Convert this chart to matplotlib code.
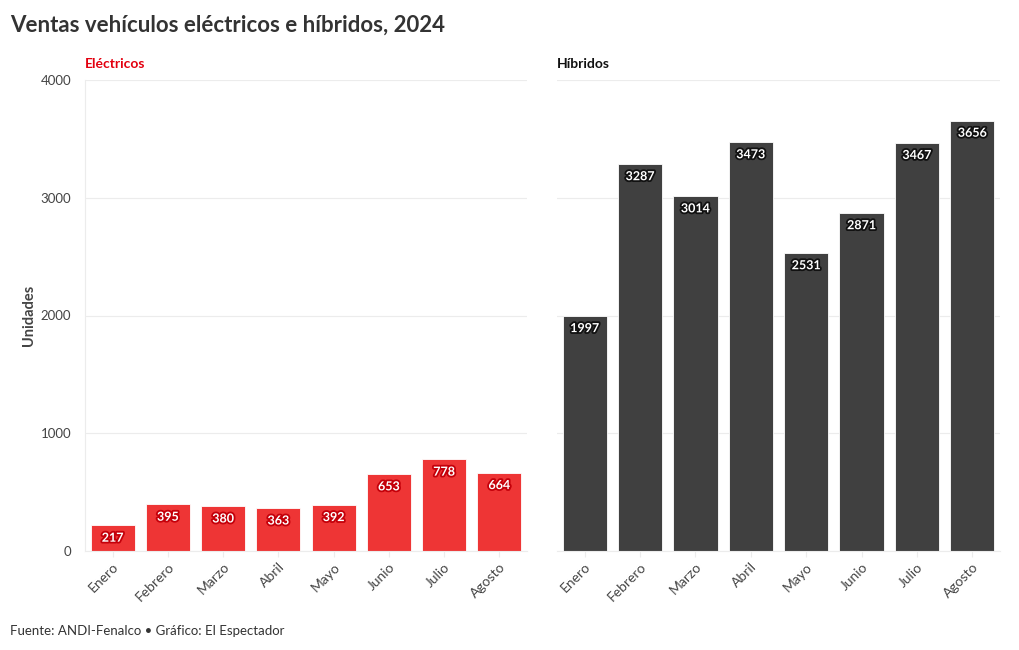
import matplotlib.pyplot as plt
import matplotlib.patheffects as pe
import numpy as np

plt.rcParams["font.family"] = ["Lato", "DejaVu Sans"]

MESES = ["Enero", "Febrero", "Marzo", "Abril", "Mayo", "Junio", "Julio", "Agosto"]
ELECTRICOS = [217, 395, 380, 363, 392, 653, 778, 664]
HIBRIDOS = [1997, 3287, 3014, 3473, 2531, 2871, 3467, 3656]

RED = "#ee3535"
RED_DARK = "#c4000a"
GREY = "#404040"
INK = "#333333"
GRID = "#ececec"

fig = plt.figure(figsize=(10.2, 6.5), dpi=100)
ax1 = fig.add_axes([85 / 1020, 99 / 650, 442 / 1020, 471 / 650])
ax2 = fig.add_axes([557 / 1020, 99 / 650, 443 / 1020, 471 / 650])


def panel(ax, vals, color, halo, title, title_color, show_y):
    x = np.arange(len(MESES))
    ax.bar(x, vals, width=0.8, color=color, edgecolor="#ffffff", linewidth=0.6, zorder=2)
    for xi, v in zip(x, vals):
        ax.annotate(f"{v}", (xi, v), xytext=(0, -4.5), textcoords="offset points",
                    ha="center", va="top", fontsize=9, fontweight="bold", color="white",
                    path_effects=[pe.withStroke(linewidth=2.6, foreground=halo)], zorder=3)
    ax.set_xlim(-0.5, len(MESES) - 0.5)
    ax.set_ylim(0, 4000)
    ax.set_yticks([0, 1000, 2000, 3000, 4000])
    ax.grid(axis="y", color=GRID, linewidth=0.8, zorder=0)
    ax.set_xticks(x)
    ax.set_xticklabels(MESES, rotation=45, ha="right", rotation_mode="anchor",
                       fontsize=10, color="#444444")
    ax.tick_params(axis="x", length=4, color=GRID, pad=3)
    for s in ["top", "right"]:
        ax.spines[s].set_visible(False)
    ax.spines["bottom"].set_color(GRID)
    if show_y:
        ax.spines["left"].set_color(GRID)
        ax.tick_params(axis="y", length=0, labelsize=9.5, labelcolor="#444444", pad=10)
    else:
        ax.spines["left"].set_visible(False)
        ax.tick_params(axis="y", length=0, labelleft=False)
    ax.set_title(title, loc="left", fontsize=10, fontweight="bold", color=title_color, pad=9)


panel(ax1, ELECTRICOS, RED, RED_DARK, "Eléctricos", "#e3000f", True)
panel(ax2, HIBRIDOS, GREY, "#111111", "Híbridos", "#111111", False)
ax1.set_ylabel("Unidades", fontsize=10.5, fontweight="bold", color="#444444", labelpad=3)

fig.text(10 / 1020, 1 - 25 / 650, "Ventas vehículos eléctricos e híbridos, 2024",
         fontsize=16, fontweight="bold", color=INK, va="center", ha="left")
fig.text(10 / 1020, 1 - 631 / 650, "Fuente: ANDI-Fenalco • Gráfico: El Espectador",
         fontsize=9.5, color=INK, va="center", ha="left")

fig.savefig("out.png", dpi=100, facecolor="white")
